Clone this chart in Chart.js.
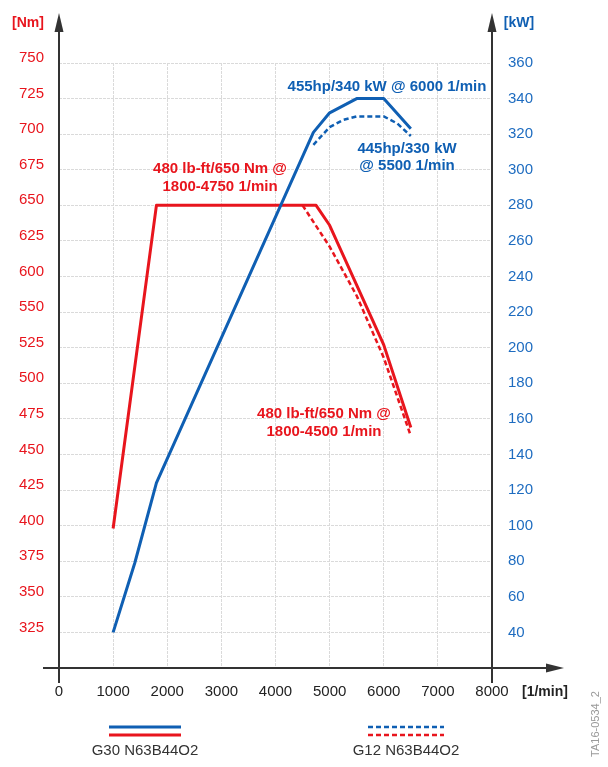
<!DOCTYPE html>
<html>
<head>
<meta charset="utf-8">
<script src="https://cdn.jsdelivr.net/npm/chart.js@4"></script>
<style>
  body { margin: 0; background: #fff; }
  #wrap { width: 608px; height: 767px; }
</style>
</head>
<body>
<div id="wrap"><canvas id="chart" width="608" height="767"></canvas></div>
<script>
// engine speed [1/min] and curve values
const g30PowerRpm = [1000, 1400, 1800, 4700, 5000, 5500, 6000, 6500];
const g30PowerKw = [40, 79, 124, 321, 332, 340, 340, 323];
const g12PowerRpm = [4700, 5000, 5250, 5500, 6000, 6250, 6500];
const g12PowerKw = [314, 324, 328, 330, 330, 326, 319];
const g30TorqueRpm = [1000, 1800, 4750, 5000, 5500, 6000, 6500];
const g30TorqueNm = [398, 650, 650, 636, 588, 527, 469];
const g12TorqueRpm = [4500, 5000, 5500, 6000, 6500];
const g12TorqueNm = [650, 621, 573, 518, 463];

// Nm axis as printed (note: the sheet skips 575)
const nmTicks = [325, 350, 375, 400, 425, 450, 475, 500, 525, 550, 600, 625, 650, 675, 700, 725, 750];
const nmKnots = [300].concat(nmTicks);

const RED = '#e8151d';
const BLUE = '#0f5fb3';
const FONT = "'Liberation Sans', Arial, sans-serif";

// torque axis: every printed label sits on one grid line
class TorqueScale extends Chart.LinearScale {
  buildTicks() {
    return nmTicks.map(v => ({ value: v }));
  }
  getPixelForValue(value) {
    const k = nmKnots;
    let pos = 0;
    if (value >= k[k.length - 1]) pos = k.length - 1;
    else if (value > k[0]) {
      for (let i = 0; i < k.length - 1; i++) {
        if (value >= k[i] && value <= k[i + 1]) {
          pos = i + (value - k[i]) / (k[i + 1] - k[i]);
          break;
        }
      }
    }
    return this.bottom - (this.bottom - this.top) * pos / (k.length - 1);
  }
}
TorqueScale.id = 'torque';
TorqueScale.defaults = Chart.LinearScale.defaults;
Chart.register(TorqueScale);

function pts(xs, ys) {
  return xs.map((x, i) => ({ x: x, y: ys[i] }));
}

// text notes, placed in rpm / kW coordinates
const notes = [
  { lines: ['455hp/340 kW @ 6000 1/min'], x: 6060, y: 346.5, color: BLUE },
  { lines: ['445hp/330 kW', '@ 5500 1/min'], x: 6430, y: 312, color: BLUE },
  { lines: ['480 lb-ft/650 Nm @', '1800-4750 1/min'], x: 2975, y: 300.3, color: RED },
  { lines: ['480 lb-ft/650 Nm @', '1800-4500 1/min'], x: 4896, y: 162.7, color: RED }
];

const decor = {
  id: 'decor',
  afterDraw(chart) {
    const ctx = chart.ctx;
    const a = chart.chartArea;
    const xs = chart.scales.x;
    const ys = chart.scales.ykW;
    ctx.save();

    // axes with arrow heads
    ctx.strokeStyle = '#333';
    ctx.fillStyle = '#333';
    ctx.lineWidth = 2;
    [a.left, a.right].forEach(x => {
      ctx.beginPath();
      ctx.moveTo(x, a.bottom + 15);
      ctx.lineTo(x, 28);
      ctx.stroke();
      ctx.beginPath();
      ctx.moveTo(x, 13);
      ctx.lineTo(x - 4.5, 32);
      ctx.lineTo(x + 4.5, 32);
      ctx.closePath();
      ctx.fill();
    });
    ctx.beginPath();
    ctx.moveTo(a.left - 16, a.bottom);
    ctx.lineTo(550, a.bottom);
    ctx.stroke();
    ctx.beginPath();
    ctx.moveTo(564, a.bottom);
    ctx.lineTo(546, a.bottom - 4.5);
    ctx.lineTo(546, a.bottom + 4.5);
    ctx.closePath();
    ctx.fill();

    // unit labels
    ctx.textBaseline = 'middle';
    ctx.font = 'bold 14px ' + FONT;
    ctx.textAlign = 'center';
    ctx.fillStyle = RED;
    ctx.fillText('[Nm]', 28, 23);
    ctx.fillStyle = BLUE;
    ctx.fillText('[kW]', 519, 23);
    ctx.fillStyle = '#222';
    ctx.textAlign = 'left';
    ctx.fillText('[1/min]', 522, a.bottom + 24);

    // notes
    ctx.textAlign = 'center';
    ctx.font = 'bold 15px ' + FONT;
    notes.forEach(n => {
      const px = xs.getPixelForValue(n.x);
      const py = ys.getPixelForValue(n.y);
      ctx.fillStyle = n.color;
      n.lines.forEach((t, i) => ctx.fillText(t, px, py + i * 17.5));
    });

    // legend
    ctx.lineWidth = 3;
    ctx.strokeStyle = BLUE;
    ctx.beginPath(); ctx.moveTo(109, 727); ctx.lineTo(181, 727); ctx.stroke();
    ctx.strokeStyle = RED;
    ctx.beginPath(); ctx.moveTo(109, 735); ctx.lineTo(181, 735); ctx.stroke();
    ctx.lineWidth = 2.5;
    ctx.setLineDash([5, 3]);
    ctx.strokeStyle = BLUE;
    ctx.beginPath(); ctx.moveTo(368, 727); ctx.lineTo(444, 727); ctx.stroke();
    ctx.strokeStyle = RED;
    ctx.beginPath(); ctx.moveTo(368, 735); ctx.lineTo(444, 735); ctx.stroke();
    ctx.setLineDash([]);
    ctx.font = '15px ' + FONT;
    ctx.fillStyle = '#333';
    ctx.fillText('G30 N63B44O2', 145, 751);
    ctx.fillText('G12 N63B44O2', 406, 751);

    // drawing number
    ctx.translate(596, 724);
    ctx.rotate(-Math.PI / 2);
    ctx.font = '11px ' + FONT;
    ctx.fillStyle = '#9a9a9a';
    ctx.fillText('TA16-0534_2', 0, 0);
    ctx.restore();
  }
};

const ctx = document.getElementById('chart').getContext('2d');
const chart = new Chart(ctx, {
  type: 'line',
  data: {
    datasets: [
      {
        label: 'G30 N63B44O2 power',
        data: pts(g30PowerRpm, g30PowerKw),
        yAxisID: 'ykW',
        borderColor: BLUE,
        borderWidth: 3
      },
      {
        label: 'G12 N63B44O2 power',
        data: pts(g12PowerRpm, g12PowerKw),
        yAxisID: 'ykW',
        borderColor: BLUE,
        borderWidth: 2.5,
        borderDash: [5, 3]
      },
      {
        label: 'G30 N63B44O2 torque',
        data: pts(g30TorqueRpm, g30TorqueNm),
        yAxisID: 'yNm',
        borderColor: RED,
        borderWidth: 3
      },
      {
        label: 'G12 N63B44O2 torque',
        data: pts(g12TorqueRpm, g12TorqueNm),
        yAxisID: 'yNm',
        borderColor: RED,
        borderWidth: 2.5,
        borderDash: [5, 3]
      }
    ]
  },
  options: {
    responsive: false,
    animation: false,
    layout: { padding: { top: 63, left: 0, right: 0, bottom: 0 } },
    elements: {
      point: { radius: 0 },
      line: { tension: 0, fill: false, borderCapStyle: 'butt', borderJoinStyle: 'round' }
    },
    plugins: {
      legend: { display: false },
      tooltip: { enabled: false }
    },
    scales: {
      x: {
        type: 'linear',
        min: 0,
        max: 8000,
        afterFit: s => { s.height = 99; },
        ticks: { stepSize: 1000, padding: 15, color: '#222', font: { family: FONT, size: 15 }, callback: v => String(v) },
        grid: { color: '#dadada', drawTicks: false },
        border: { display: false, dash: [3, 1] }
      },
      yNm: {
        type: 'torque',
        position: 'left',
        min: 300,
        max: 750,
        afterFit: s => { s.width = 59; },
        ticks: { autoSkip: false, padding: 15, labelOffset: -5, color: RED, font: { family: FONT, size: 15 } },
        grid: { display: false, drawTicks: false },
        border: { display: false }
      },
      ykW: {
        type: 'linear',
        position: 'right',
        min: 20,
        max: 360,
        afterFit: s => { s.width = 116; },
        ticks: {
          stepSize: 20,
          maxTicksLimit: 20,
          autoSkip: false,
          padding: 16,
          color: '#1e6cc0',
          font: { family: FONT, size: 15 },
          callback: v => (v === 20 ? '' : String(v))
        },
        grid: { color: '#dadada', drawTicks: false },
        border: { display: false, dash: [3, 1] }
      }
    }
  },
  plugins: [decor]
});
</script>
</body>
</html>
